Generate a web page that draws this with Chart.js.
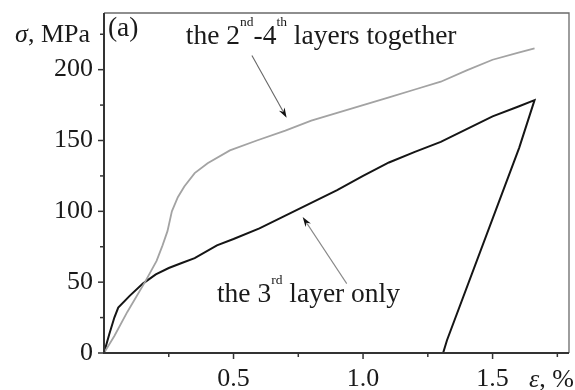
<!DOCTYPE html>
<html>
<head>
<meta charset="utf-8">
<script src="https://cdn.jsdelivr.net/npm/chart.js@4/dist/chart.umd.min.js"></script>
<style>
  html, body { margin: 0; padding: 0; background: #fff; }
  #wrap { width: 575px; height: 390px; position: relative; }
</style>
</head>
<body>
<div id="wrap"><canvas id="c" width="575" height="390"></canvas></div>
<script>
// Strain (%) and stress (MPa) of the 2nd-4th layers loaded together
const togetherStrain = [0, 0.04, 0.09, 0.158, 0.203, 0.226, 0.245, 0.262, 0.285, 0.31, 0.35, 0.4, 0.486, 0.59, 0.7, 0.8, 0.9, 1.0, 1.1, 1.2, 1.3, 1.4, 1.5, 1.6, 1.662];
const togetherStress = [0, 12, 29, 50, 65, 76, 86, 100, 110, 117.5, 127, 134, 143, 150, 157, 164, 169.5, 175, 180.5, 186, 191.5, 199.5, 207, 212, 215];

// Strain (%) and stress (MPa) of the 3rd layer alone, loading then unloading
const thirdStrain = [0, 0.02, 0.04, 0.055, 0.1, 0.15, 0.2, 0.25, 0.3, 0.35, 0.436, 0.5, 0.6, 0.7, 0.8, 0.9, 1.0, 1.1, 1.2, 1.3, 1.4, 1.5, 1.6, 1.662, 1.603, 1.324, 1.309];
const thirdStress = [0, 13, 25, 32, 40.5, 49, 55.5, 60, 63.5, 67, 76, 80.5, 88, 97, 106, 115, 125, 134.5, 142, 149, 158, 167, 174, 178.5, 145, 9, 0];

// Axis ticks
const xTickStep = 0.25;
const xLabelled = [0.5, 1.0, 1.5];
const yTickStep = 25;
const yLabelled = [0, 50, 100, 150, 200];
const xMax = 1.795;
const yMax = 240;

// Labels and arrows placed in data units (strain %, stress MPa)
const panelLabel = { x: 0.015, y: 224, text: '(a)' };
const togetherLabel = { x: 0.316, y: 218, parts: [['the 2', 0], ['nd', 1], ['-4', 0], ['th', 1], [' layers together', 0]] };
const thirdLabel = { x: 0.436, y: 36, parts: [['the 3', 0], ['rd', 1], [' layer only', 0]] };
const arrows = [
  { from: [0.571, 210], to: [0.705, 166], color: '#666' },
  { from: [0.937, 49], to: [0.767, 96], color: '#888' }
];

const SERIF = '"Liberation Serif", "Times New Roman", serif';

function toPoints(xs, ys) { return xs.map((x, i) => ({ x: x, y: ys[i] })); }

function drawParts(ctx, px, py, parts) {
  let cx = px;
  ctx.textAlign = 'left';
  ctx.textBaseline = 'alphabetic';
  for (const [t, sup] of parts) {
    ctx.font = sup ? '13.5px ' + SERIF : '27.5px ' + SERIF;
    ctx.fillText(t, cx, sup ? py - 18 : py);
    cx += ctx.measureText(t).width;
  }
}

const decorations = {
  id: 'decorations',
  afterDatasetsDraw(chart) {
    const { ctx, chartArea: a, scales } = chart;
    const xs = scales.x, ys = scales.y;
    ctx.save();

    // frame
    ctx.strokeStyle = '#6a6a6a';
    ctx.lineWidth = 1.3;
    ctx.beginPath();
    ctx.moveTo(a.left, a.top); ctx.lineTo(a.right, a.top); ctx.lineTo(a.right, a.bottom);
    ctx.stroke();
    ctx.strokeStyle = '#333';
    ctx.lineWidth = 2;
    ctx.beginPath();
    ctx.moveTo(a.left, a.top); ctx.lineTo(a.left, a.bottom); ctx.lineTo(a.right, a.bottom);
    ctx.stroke();

    // tick marks, pointing outwards
    ctx.lineWidth = 1.5;
    for (const t of ys.ticks) {
      const py = ys.getPixelForValue(t.value);
      const len = yLabelled.includes(t.value) ? 6 : 4;
      ctx.beginPath(); ctx.moveTo(a.left, py); ctx.lineTo(a.left - len, py); ctx.stroke();
    }
    for (const t of xs.ticks) {
      if (t.value === 0) continue;
      const px = xs.getPixelForValue(t.value);
      const len = xLabelled.some(v => Math.abs(v - t.value) < 1e-6) ? 6 : 4;
      ctx.beginPath(); ctx.moveTo(px, a.bottom); ctx.lineTo(px, a.bottom + len); ctx.stroke();
    }

    ctx.fillStyle = '#1a1a1a';
    // axis names
    const yName = ys.getPixelForValue(225);
    ctx.textBaseline = 'middle';
    ctx.textAlign = 'left';
    ctx.font = '26px ' + SERIF;
    const restY = ', MPa';
    const wRestY = ctx.measureText(restY).width;
    ctx.font = 'italic 26px ' + SERIF;
    const wSig = ctx.measureText('σ').width;
    const yRight = a.left - 14;
    ctx.fillText('σ', yRight - wRestY - wSig, yName + 1);
    ctx.font = '26px ' + SERIF;
    ctx.fillText(restY, yRight - wRestY, yName + 1);

    const xName = xs.getPixelForValue(1.75);
    ctx.textBaseline = 'alphabetic';
    ctx.font = 'italic 26px ' + SERIF;
    const wEps = ctx.measureText('ε').width;
    ctx.font = '26px ' + SERIF;
    const restX = ', %';
    const wRestX = ctx.measureText(restX).width;
    const xLeft = xName - 6 - (wEps + wRestX) / 2;
    ctx.font = 'italic 26px ' + SERIF;
    ctx.fillText('ε', xLeft, a.bottom + 34);
    ctx.font = '26px ' + SERIF;
    ctx.fillText(restX, xLeft + wEps, a.bottom + 34);

    // panel label and curve labels
    ctx.font = '27.5px ' + SERIF;
    ctx.textAlign = 'left';
    ctx.fillText(panelLabel.text, xs.getPixelForValue(panelLabel.x), ys.getPixelForValue(panelLabel.y));
    drawParts(ctx, xs.getPixelForValue(togetherLabel.x), ys.getPixelForValue(togetherLabel.y), togetherLabel.parts);
    drawParts(ctx, xs.getPixelForValue(thirdLabel.x), ys.getPixelForValue(thirdLabel.y), thirdLabel.parts);

    // pointer arrows
    for (const ar of arrows) {
      const x1 = xs.getPixelForValue(ar.from[0]), y1 = ys.getPixelForValue(ar.from[1]);
      const x2 = xs.getPixelForValue(ar.to[0]), y2 = ys.getPixelForValue(ar.to[1]);
      const ang = Math.atan2(y2 - y1, x2 - x1);
      const hl = 10, hw = 3.2;
      ctx.strokeStyle = ar.color;
      ctx.lineWidth = 1.1;
      ctx.beginPath();
      ctx.moveTo(x1, y1);
      ctx.lineTo(x2 - Math.cos(ang) * hl * 0.8, y2 - Math.sin(ang) * hl * 0.8);
      ctx.stroke();
      ctx.fillStyle = '#111';
      ctx.beginPath();
      ctx.moveTo(x2, y2);
      ctx.lineTo(x2 - Math.cos(ang) * hl - Math.sin(ang) * hw, y2 - Math.sin(ang) * hl + Math.cos(ang) * hw);
      ctx.lineTo(x2 - Math.cos(ang) * hl * 0.7, y2 - Math.sin(ang) * hl * 0.7);
      ctx.lineTo(x2 - Math.cos(ang) * hl + Math.sin(ang) * hw, y2 - Math.sin(ang) * hl - Math.cos(ang) * hw);
      ctx.closePath();
      ctx.fill();
    }
    ctx.restore();
  }
};

new Chart(document.getElementById('c'), {
  type: 'line',
  data: {
    datasets: [
      {
        label: 'the 2nd-4th layers together',
        data: toPoints(togetherStrain, togetherStress),
        borderColor: '#a3a3a3',
        borderWidth: 1.8,
        pointRadius: 0,
        tension: 0,
        fill: false
      },
      {
        label: 'the 3rd layer only',
        data: toPoints(thirdStrain, thirdStress),
        borderColor: '#151515',
        borderWidth: 2,
        pointRadius: 0,
        tension: 0,
        fill: false
      }
    ]
  },
  options: {
    responsive: false,
    animation: false,
    devicePixelRatio: 1,
    layout: { padding: { left: 0, top: 13, right: 6, bottom: 0 } },
    plugins: { legend: { display: false }, tooltip: { enabled: false } },
    scales: {
      x: {
        type: 'linear',
        min: 0,
        max: xMax,
        grid: { display: false, drawTicks: false },
        border: { display: false },
        ticks: {
          stepSize: xTickStep,
          includeBounds: false,
          maxRotation: 0,
          autoSkip: false,
          padding: 13,
          color: '#1a1a1a',
          font: { family: SERIF, size: 26, lineHeight: 1 },
          callback: (v) => xLabelled.some(l => Math.abs(l - v) < 1e-6) ? Number(v).toFixed(1) : ''
        },
        afterFit: (s) => { s.height = 37; s.paddingLeft = 0; s.paddingRight = 0; }
      },
      y: {
        type: 'linear',
        min: 0,
        max: yMax,
        grid: { display: false, drawTicks: false },
        border: { display: false },
        ticks: {
          stepSize: yTickStep,
          includeBounds: false,
          autoSkip: false,
          padding: 11,
          color: '#1a1a1a',
          font: { family: SERIF, size: 26, lineHeight: 1 },
          callback: (v) => yLabelled.includes(v) ? String(v) : ''
        },
        afterFit: (s) => { s.width = 104; s.paddingTop = 0; s.paddingBottom = 0; }
      }
    }
  },
  plugins: [decorations]
});
</script>
</body>
</html>
